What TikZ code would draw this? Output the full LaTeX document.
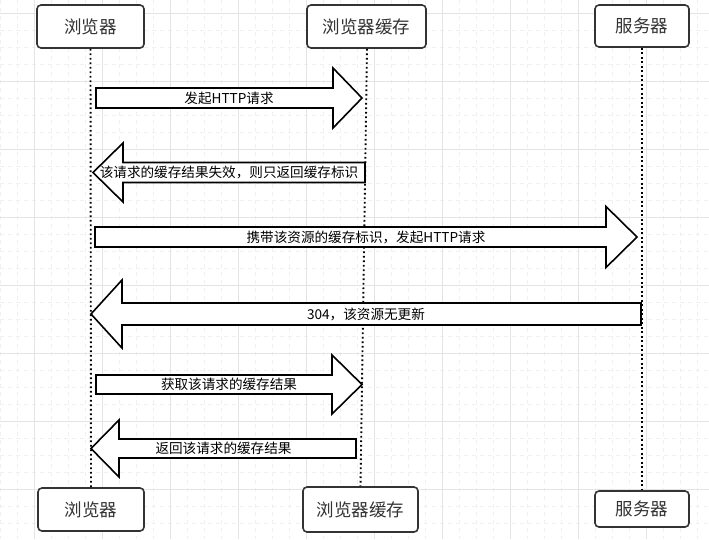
\documentclass[tikz,border=0pt]{standalone}
\usepackage{fontspec}
\setmainfont{Noto Sans CJK SC}
\usepackage{xcolor}
\usepackage{tikz}
\usetikzlibrary{calc}

\definecolor{gridmajor}{HTML}{E4E4E4}
\definecolor{gridminor}{HTML}{F0F0F0}
\definecolor{ink}{HTML}{333333}

% fat arrow: tail, tip, shaft half height, head half height, head length
\newcommand{\fatarrow}[5]{%
  \coordinate (#2base) at ($(#2)!#5pt!(#1)$);
  \draw[blockarrow] ($(#1)+(0,#3)$) -- ($(#2base)+(0,#3)$) -- ($(#2base)+(0,#4)$) -- (#2)
    -- ($(#2base)+(0,-#4)$) -- ($(#2base)+(0,-#3)$) -- ($(#1)+(0,-#3)$) -- cycle;
}

\begin{document}
\begin{tikzpicture}[x=1pt,y=-1pt]
  \tikzstyle{actor} = [draw=ink,line width=1.6pt,rounded corners=4pt,fill=white,text=ink,font=\fontsize{17.5}{20}\selectfont,inner sep=0pt]
  \tikzstyle{lifeline} = [line width=1.9pt,dash pattern=on 1.9pt off 2.6pt]
  \tikzstyle{blockarrow} = [draw=black,line width=1.6pt,fill=white,line join=miter]
  \tikzstyle{msg} = [font=\fontsize{13.6}{15}\selectfont,text=black,inner sep=0pt]
  \tikzstyle{minorgrid} = [gridminor,line width=0.8pt,dash pattern=on 4pt off 4pt]
  \tikzstyle{majorgrid} = [gridmajor,line width=1pt]
  %
  \useasboundingbox (0,0) rectangle (709,539);
  \fill[white] (0,0) rectangle (709,539);
  % Background grid.
  \foreach \gx in {0,17,...,708} \draw[minorgrid] (\gx,0) -- (\gx,539);
  \foreach \gy in {13,30,...,538} \draw[minorgrid] (0,\gy) -- (709,\gy);
  \foreach \gx in {34,102,...,708} \draw[majorgrid] (\gx,0) -- (\gx,539);
  \foreach \gy in {13,81,...,538} \draw[majorgrid] (0,\gy) -- (709,\gy);
  % Top row.
  \node[actor,minimum width=107pt,minimum height=43pt] (browserTop) at (90.5,26.5) {浏览器};
  \node[actor,minimum width=119pt,minimum height=43pt] (cacheTop) at (366.5,26.5) {浏览器缓存};
  \node[actor,minimum width=94pt,minimum height=42pt] (serverTop) at (642,26) {服务器};
  % Bottom row.
  \node[actor,minimum width=106pt,minimum height=43pt] (browserBot) at (91,509.5) {浏览器};
  \node[actor,minimum width=115pt,minimum height=45pt] (cacheBot) at (360.5,509.5) {浏览器缓存};
  \node[actor,minimum width=94pt,minimum height=36pt] (serverBot) at (642,509) {服务器};
  % Lifelines.
  \draw[lifeline] (browserTop.south) -- (browserBot.north);
  \draw[lifeline] ($(cacheTop.south)+(0.5,0)$) -- (cacheBot.north);
  \draw[lifeline] (serverTop.south) -- (serverBot.north);
  % Messages.
  \coordinate (reqTail) at (96,98);      \coordinate (reqTip) at (362,98);
  \coordinate (staleTail) at (365,172.5); \coordinate (staleTip) at (93,172.5);
  \coordinate (revalTail) at (95,237);   \coordinate (revalTip) at (637,237);
  \coordinate (notModTail) at (641,314); \coordinate (notModTip) at (91,314);
  \coordinate (fetchTail) at (96,384.5); \coordinate (fetchTip) at (362,384.5);
  \coordinate (backTail) at (356,448.5); \coordinate (backTip) at (91,448.5);
  \fatarrow{reqTail}{reqTip}{10}{30}{29}
  \fatarrow{staleTail}{staleTip}{10}{29.5}{30}
  \fatarrow{revalTail}{revalTip}{10}{30.5}{31}
  \fatarrow{notModTail}{notModTip}{11}{34}{31}
  \fatarrow{fetchTail}{fetchTip}{9.5}{29.5}{30}
  \fatarrow{backTail}{backTip}{9.5}{28.5}{28}
  \node[msg] (reqText) at ($(reqTail)!0.5!(reqTip)$) {发起HTTP请求};
  \node[msg] (staleText) at ($(staleTail)!0.5!(staleTip)$) {该请求的缓存结果失效，则只返回缓存标识};
  \node[msg] (revalText) at ($(revalTail)!0.5!(revalTip)$) {携带该资源的缓存标识，发起HTTP请求};
  \node[msg] (notModText) at ($(notModTail)!0.5!(notModTip)$) {304，该资源无更新};
  \node[msg] (fetchText) at ($(fetchTail)!0.5!(fetchTip)$) {获取该请求的缓存结果};
  \node[msg] (backText) at ($(backTail)!0.5!(backTip)$) {返回该请求的缓存结果};
\end{tikzpicture}
\end{document}
